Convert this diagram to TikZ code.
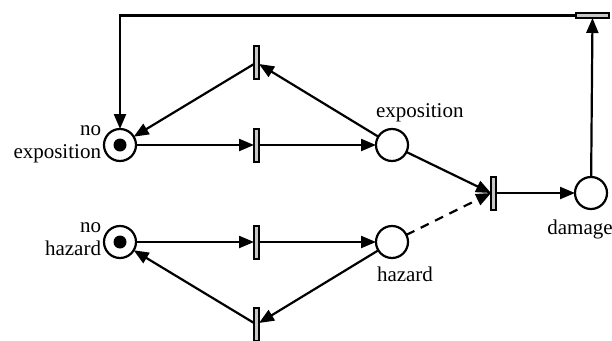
\documentclass[tikz,border=0pt]{standalone}
\usepackage{fontspec}
\setmainfont{Liberation Serif}
\usetikzlibrary{arrows.meta}
\begin{document}
\begin{tikzpicture}[x=1pt,y=-1pt,
  every node/.style={inner sep=0pt, outer sep=0pt},
  place/.style={circle, draw, line width=2.2pt, minimum size=32pt, fill=white},
  token/.style={circle, fill=black, minimum size=13pt},
  trans/.style={rectangle, draw, line width=2pt, fill=black!22,
                minimum width=5pt, minimum height=33pt},
  htrans/.style={trans, minimum width=33pt, minimum height=5pt},
  arc/.style={line width=2.2pt, -{Triangle[length=15pt,width=12pt]}},
  lbl/.style={font=\fontsize{21}{23}\selectfont}]
\useasboundingbox (0,0) rectangle (612,340);

% places
\node[place] (pne) at (120,145) {};
\node[token] at (pne) {};
\node[place] (pnh) at (120,242) {};
\node[token] at (pnh) {};
\node[place] (pe) at (392,145) {};
\node[place] (ph) at (392,242) {};
\node[place] (pd) at (591,193) {};

% transitions
\node[trans] (t1) at (256.5,62.5) {};
\node[trans] (t2) at (256.5,145) {};
\node[trans] (t3) at (256.5,242) {};
\node[trans] (t4) at (256.5,324.5) {};
\node[trans] (t5) at (493.5,193) {};
\node[htrans] (t6) at (592.5,15.5) {};
\coordinate (corner) at (120,15.5);

% labels (base anchor = baseline of the last line)
\node[lbl, anchor=base east, align=right] (lne) at (101,158) {no\\exposition};
\node[lbl, anchor=base east, align=right] (lnh) at (101,255) {no\\hazard};
\node[lbl, anchor=base west] (le) at (376,117) {exposition};
\node[lbl, anchor=base west] (lh) at (377,281) {hazard};
\node[lbl, anchor=base] (ld) at (580,234) {damage};

% arcs
\draw[arc] (pe) -- (t1);
\draw[arc] (t1) -- (pne);
\draw[arc] (pne) -- (t2);
\draw[arc] (t2) -- (pe);
\draw[arc] (pnh) -- (t3);
\draw[arc] (t3) -- (ph);
\draw[arc] (ph) -- (t4);
\draw[arc] (t4) -- (pnh);
\draw[arc] (pe) -- (t5.west);
\draw[arc, dashed, dash pattern=on 9pt off 7pt] (ph) -- (t5.west);
\draw[arc] (t5) -- (pd);
\draw[arc] (pd) -- (t6);
\draw[arc] (t6) -- (corner) -- (pne);
\end{tikzpicture}
\end{document}
